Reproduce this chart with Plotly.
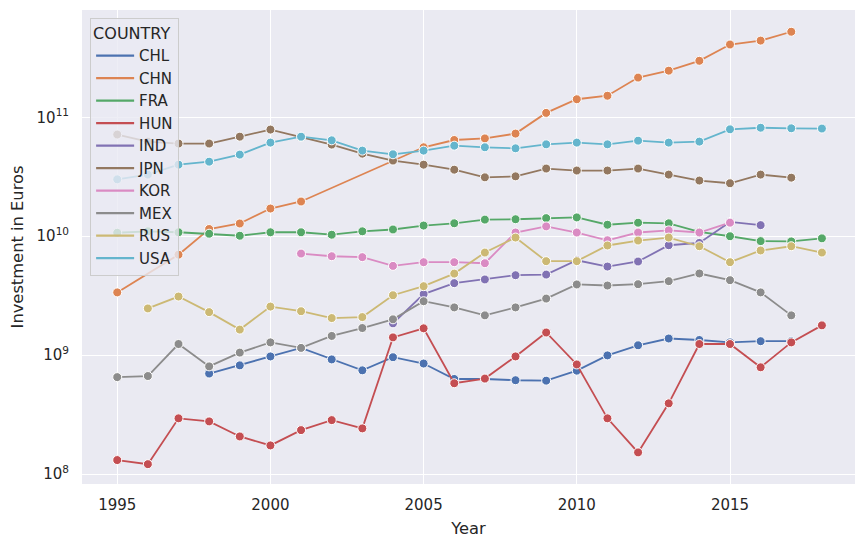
import plotly.graph_objects as go

YEARS = [1995, 1996, 1997, 1998, 1999, 2000, 2001, 2002, 2003, 2004, 2005, 2006,
         2007, 2008, 2009, 2010, 2011, 2012, 2013, 2014, 2015, 2016, 2017, 2018]

COUNTRIES = ["CHL", "CHN", "FRA", "HUN", "IND", "JPN", "KOR", "MEX", "RUS", "USA"]

CHL = [None, None, None, 7.0e8, 8.2e8, 9.75e8, 1.15e9, 9.2e8, 7.45e8, 9.6e8, 8.5e8, 6.3e8,
       6.3e8, 6.15e8, 6.1e8, 7.4e8, 9.95e8, 1.21e9, 1.38e9, 1.34e9, 1.28e9, 1.31e9, 1.31e9, None]
CHN = [3.37e9, None, 7.0e9, 1.15e10, 1.28e10, 1.71e10, 1.96e10, None, None, None, 5.6e10, 6.45e10,
       6.65e10, 7.3e10, 1.09e11, 1.42e11, 1.52e11, 2.16e11, 2.47e11, 2.99e11, 4.1e11, 4.42e11, 5.25e11, None]
FRA = [1.07e10, 1.10e10, 1.08e10, 1.05e10, 1.01e10, 1.08e10, 1.08e10, 1.03e10, 1.10e10, 1.14e10, 1.23e10, 1.285e10,
       1.38e10, 1.39e10, 1.42e10, 1.44e10, 1.25e10, 1.30e10, 1.285e10, 1.09e10, 1.0e10, 9.1e9, 9.05e9, 9.6e9]
HUN = [1.31e8, 1.21e8, 2.94e8, 2.77e8, 2.07e8, 1.74e8, 2.34e8, 2.84e8, 2.42e8, 1.41e9, 1.68e9, 5.8e8,
       6.35e8, 9.75e8, 1.55e9, 8.35e8, 2.94e8, 1.52e8, 3.93e8, 1.24e9, 1.24e9, 7.9e8, 1.28e9, 1.78e9]
IND = [None, None, None, None, None, None, None, None, None, 1.85e9, 3.26e9, 4.03e9,
       4.33e9, 4.70e9, 4.76e9, 6.28e9, 5.56e9, 6.13e9, 8.4e9, 8.78e9, 1.32e10, 1.24e10, None, None]
JPN = [7.17e10, 6.25e10, 6.02e10, 6.02e10, 6.88e10, 7.89e10, 6.83e10, 5.9e10, 4.95e10, 4.33e10, 4.0e10, 3.63e10,
       3.13e10, 3.19e10, 3.71e10, 3.57e10, 3.57e10, 3.71e10, 3.30e10, 2.94e10, 2.79e10, 3.30e10, 3.11e10, None]
KOR = [None, None, None, None, None, None, 7.15e9, 6.79e9, 6.67e9, 5.63e9, 6.05e9, 6.05e9,
       5.93e9, 1.075e10, 1.21e10, 1.075e10, 9.25e9, 1.075e10, 1.12e10, 1.075e10, 1.30e10, None, None, None]
MEX = [6.53e8, 6.67e8, 1.24e9, 8.04e8, 1.05e9, 1.28e9, 1.15e9, 1.45e9, 1.69e9, 2.0e9, 2.84e9, 2.52e9,
       2.16e9, 2.52e9, 2.99e9, 3.93e9, 3.85e9, 3.95e9, 4.19e9, 4.86e9, 4.27e9, 3.37e9, 2.16e9, None]
RUS = [None, 2.47e9, 3.11e9, 2.30e9, 1.64e9, 2.56e9, 2.34e9, 2.05e9, 2.09e9, 3.19e9, 3.80e9, 4.85e9,
       7.29e9, 9.75e9, 6.17e9, 6.17e9, 8.36e9, 9.2e9, 9.75e9, 8.24e9, 6.05e9, 7.59e9, 8.24e9, 7.29e9]
USA = [3.01e10, 3.30e10, 4.0e10, 4.24e10, 4.86e10, 6.13e10, 6.88e10, 6.41e10, 5.25e10, 4.89e10, 5.25e10, 5.78e10,
       5.6e10, 5.49e10, 5.93e10, 6.13e10, 5.93e10, 6.37e10, 6.13e10, 6.25e10, 7.93e10, 8.18e10, 8.09e10, 8.05e10]

SERIES = [CHL, CHN, FRA, HUN, IND, JPN, KOR, MEX, RUS, USA]

COLORS = ["#4C72B0", "#DD8452", "#55A868", "#C44E52", "#8172B3",
          "#937860", "#DA8BC3", "#8C8C8C", "#CCB974", "#64B5CD"]

X_TICKS = [1995, 2000, 2005, 2010, 2015]
Y_TICKS = [1e8, 1e9, 1e10, 1e11]
Y_TICK_TEXT = ["10<sup>8</sup>", "10<sup>9</sup>", "10<sup>10</sup>", "10<sup>11</sup>"]

FONT = "DejaVu Sans"
TXT = "#262626"

fig = go.Figure()
for name, vals, col in zip(COUNTRIES, SERIES, COLORS):
    fig.add_trace(go.Scatter(
        x=YEARS, y=vals, mode="lines+markers", name=name, showlegend=False,
        connectgaps=True,
        line=dict(color=col, width=1.8),
        marker=dict(size=9, color=col, line=dict(color="white", width=1)),
    ))
# legend entries (line only, like the seaborn legend)
for name, col in zip(COUNTRIES, COLORS):
    fig.add_trace(go.Scatter(
        x=[None], y=[None], mode="lines", name=name,
        line=dict(color=col, width=2.2),
    ))

fig.update_layout(
    width=866, height=547,
    margin=dict(l=82, r=11, t=9.5, b=63, autoexpand=False),
    paper_bgcolor="white",
    plot_bgcolor="#EAEAF2",
    font=dict(family=FONT, size=15, color=TXT),
    legend=dict(
        title=dict(text="COUNTRY", font=dict(size=16, color=TXT)),
        x=0.0105, y=0.984, xanchor="left", yanchor="top",
        bgcolor="rgba(234,234,242,0.8)",
        bordercolor="#CCCCCC", borderwidth=1,
        font=dict(size=15, color=TXT),
        itemwidth=38,
    ),
    showlegend=True,
)
fig.update_xaxes(
    range=[1993.85, 2019.08], automargin=False,
    tickvals=X_TICKS, ticktext=[str(t) for t in X_TICKS],
    showgrid=True, gridcolor="white", gridwidth=1.2,
    zeroline=False, showline=False, ticks="",
    ticklabelstandoff=10,
    tickfont=dict(size=15, color=TXT),
    title=dict(text="Year", font=dict(size=16.3, color=TXT), standoff=9),
)
fig.update_yaxes(
    type="log", automargin=False,
    range=[7.916, 11.903],
    tickvals=Y_TICKS, ticktext=Y_TICK_TEXT,
    showgrid=True, gridcolor="white", gridwidth=1.2,
    zeroline=False, showline=False, ticks="",
    ticklabelstandoff=12,
    tickfont=dict(size=15, color=TXT),
    title=dict(text="Investment in Euros", font=dict(size=16.3, color=TXT), standoff=8),
)

fig.write_html(
    "out.html",
    config={"displayModeBar": False},
    post_script="document.body.style.margin='0';document.body.style.overflow='hidden';",
)
